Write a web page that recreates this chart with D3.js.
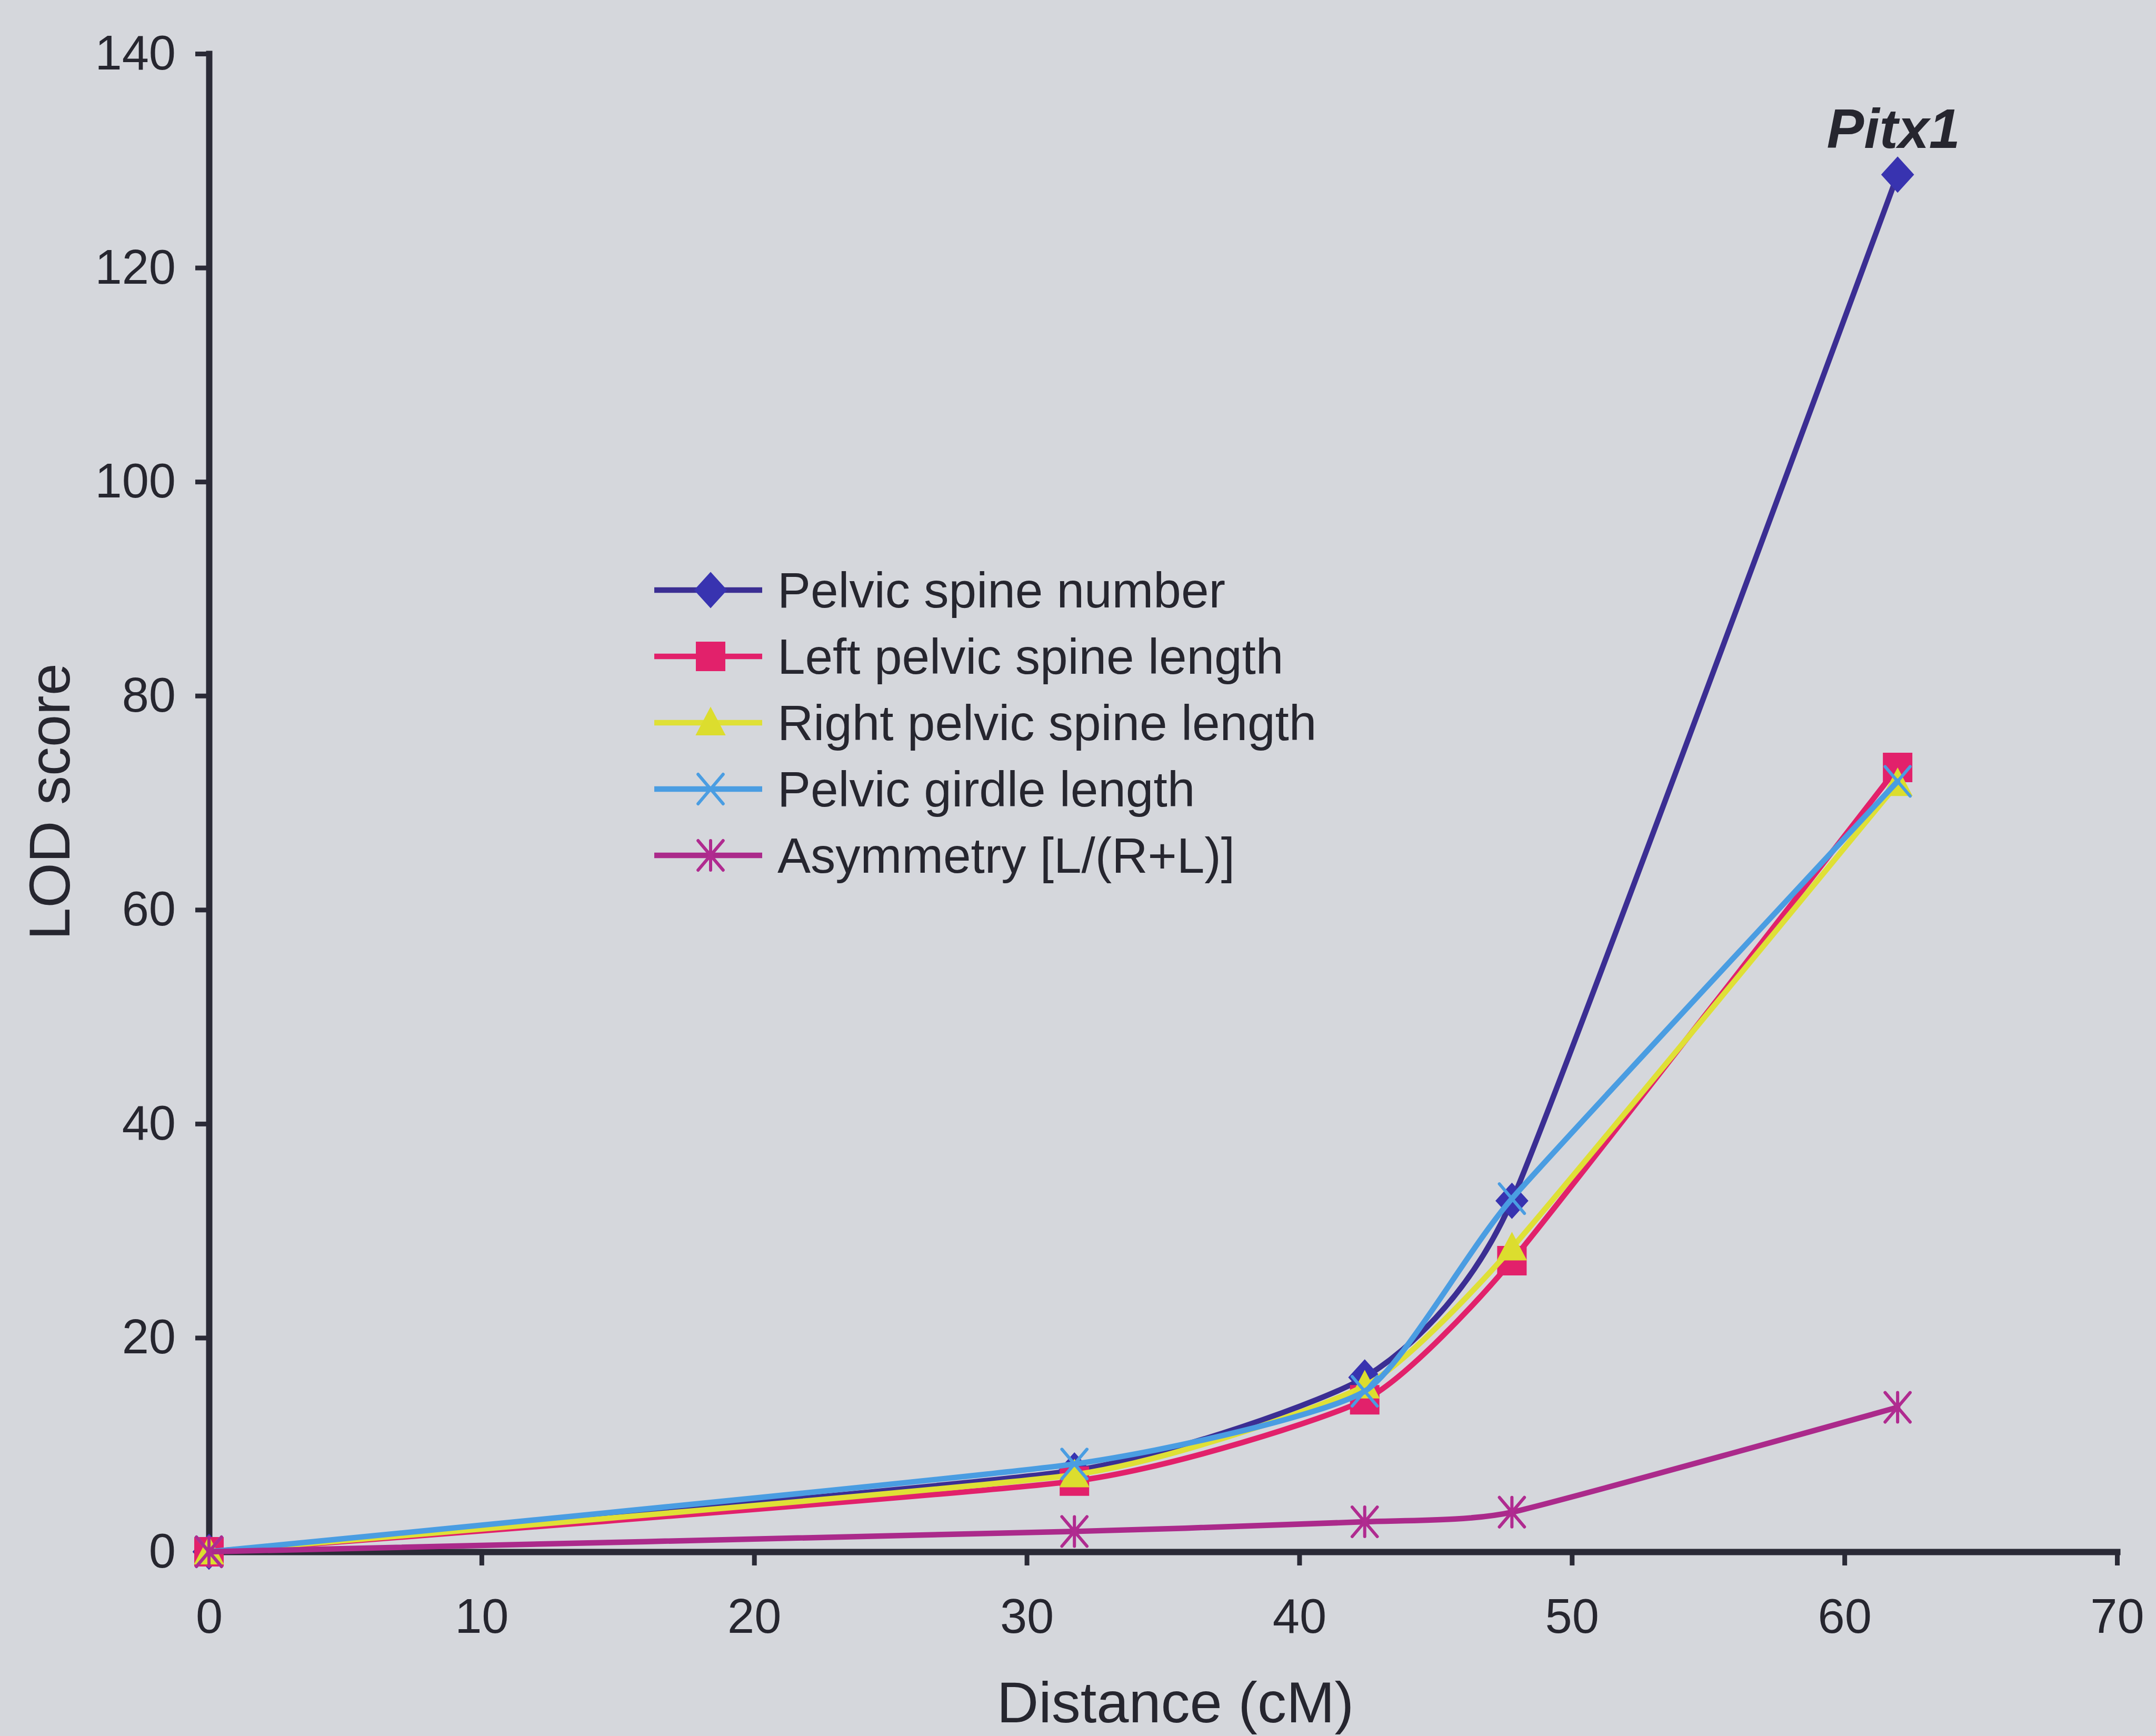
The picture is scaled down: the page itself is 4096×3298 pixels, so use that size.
<!DOCTYPE html>
<html>
<head>
<meta charset="utf-8">
<script src="https://cdn.jsdelivr.net/npm/d3@7"></script>
<style>
  html, body { margin: 0; padding: 0; background: #d5d7dc; }
  svg { display: block; }
  text { font-family: "Liberation Sans", Arial, Helvetica, sans-serif; fill: #26262f; }
</style>
</head>
<body>
<svg id="chart" width="4096" height="3298"></svg>
<script>
// Marker positions along the linkage group (cM)
const distanceCM = [0, 31.75, 42.4, 47.8, 61.95];

// LOD scores for each trait at those markers
const pelvicSpineNumber      = [0, 7.6, 16.3, 32.8, 128.7];
const leftPelvicSpineLength  = [0, 6.6, 14.2, 27.2, 73.3];
const rightPelvicSpineLength = [0, 7.2, 15.5, 28.4, 71.8];
const pelvicGirdleLength     = [0, 8.2, 15.0, 33.0, 72.0];
const asymmetryLR            = [0, 1.9, 2.8, 3.7, 13.5];

const seriesNames = [
  "Pelvic spine number",
  "Left pelvic spine length",
  "Right pelvic spine length",
  "Pelvic girdle length",
  "Asymmetry [L/(R+L)]"
];

const xTickValues = [0, 10, 20, 30, 40, 50, 60, 70];
const yTickValues = [0, 20, 40, 60, 80, 100, 120, 140];

const peakLabel = "Pitx1";
const xTitle = "Distance (cM)";
const yTitle = "LOD score";

// ---- marker shapes (size = half-extent squared) ----
const diamondShape = { draw(ctx, size) { const r = Math.sqrt(size);
  ctx.moveTo(0, -r * 1.1); ctx.lineTo(r, 0); ctx.lineTo(0, r * 1.1); ctx.lineTo(-r, 0); ctx.closePath(); } };
const squareShape = { draw(ctx, size) { const r = Math.sqrt(size);
  ctx.rect(-r, -r, 2 * r, 2 * r); } };
const triangleShape = { draw(ctx, size) { const r = Math.sqrt(size);
  ctx.moveTo(0, -r * 1.05); ctx.lineTo(r, r * 0.85); ctx.lineTo(-r, r * 0.85); ctx.closePath(); } };
const timesShape = { draw(ctx, size) { const r = Math.sqrt(size);
  ctx.moveTo(-r * 0.85, -r); ctx.lineTo(r * 0.85, r); ctx.moveTo(r * 0.85, -r); ctx.lineTo(-r * 0.85, r); } };
const asteriskShape = { draw(ctx, size) { const r = Math.sqrt(size);
  ctx.moveTo(-r * 0.85, -r); ctx.lineTo(r * 0.85, r); ctx.moveTo(r * 0.85, -r); ctx.lineTo(-r * 0.85, r);
  ctx.moveTo(0, -r); ctx.lineTo(0, r); } };

const seriesValues = [pelvicSpineNumber, leftPelvicSpineLength, rightPelvicSpineLength, pelvicGirdleLength, asymmetryLR];
const seriesStyle = [
  { line: "#3b2e93", mark: "#3833b0", shape: diamondShape,  r: 30, filled: true },
  { line: "#e2216b", mark: "#e2216b", shape: squareShape,   r: 27, filled: true },
  { line: "#dfe036", mark: "#dcdd2e", shape: triangleShape, r: 27, filled: true },
  { line: "#4a9de2", mark: "#4a9de2", shape: timesShape,    r: 28, filled: false },
  { line: "#ab2a8b", mark: "#b02b90", shape: asteriskShape, r: 28, filled: false }
];

const series = seriesNames.map((name, i) => ({ name, values: seriesValues[i], style: seriesStyle[i] }));

const svg = d3.select("#chart");
const W = 4096, H = 3298;

svg.append("rect").attr("width", W).attr("height", H).attr("fill", "#d5d7dc");

const x = d3.scaleLinear().domain([0, 70]).range([397, 4022]);
const y = d3.scaleLinear().domain([0, 140]).range([2948, 102]);

const axisColor = "#2a2a36";

// x axis
const gx = svg.append("g")
  .attr("transform", `translate(0,${y(0)})`)
  .call(d3.axisBottom(x).tickValues(xTickValues).tickFormat(d3.format("d"))
    .tickSize(26).tickSizeOuter(0).tickPadding(63));

// y axis
const gy = svg.append("g")
  .attr("transform", `translate(${x(0)},0)`)
  .call(d3.axisLeft(y).tickValues(yTickValues).tickFormat(d3.format("d"))
    .tickSize(26).tickSizeOuter(0).tickPadding(37));

[gx, gy].forEach(g => {
  g.attr("font-family", null).attr("font-size", null);
  g.select(".domain").attr("stroke", axisColor).attr("stroke-width", 12).attr("stroke-linecap", "square");
  g.selectAll(".tick line").attr("stroke", axisColor).attr("stroke-width", 9);
  g.selectAll(".tick text").attr("fill", "#26262f").style("font-size", "92px");
});

// data lines and markers (lightly smoothed)
const lineGen = d3.line()
  .x((d, i) => x(distanceCM[i]))
  .y(d => y(d))
  .curve(d3.curveCardinal.tension(0.5));

const plot = svg.append("g");
series.forEach(s => {
  const g = plot.append("g");
  g.append("path")
    .datum(s.values)
    .attr("d", lineGen)
    .attr("fill", "none")
    .attr("stroke", s.style.line)
    .attr("stroke-width", 10.5)
    .attr("stroke-linejoin", "round")
    .attr("stroke-linecap", "round");
  g.selectAll("path.mk")
    .data(s.values)
    .join("path")
    .attr("class", "mk")
    .attr("transform", (d, i) => `translate(${x(distanceCM[i])},${y(d)})`)
    .attr("d", d3.symbol().type(s.style.shape).size(s.style.r * s.style.r))
    .attr("fill", s.style.filled ? s.style.mark : "none")
    .attr("stroke", s.style.mark)
    .attr("stroke-width", s.style.filled ? 2 : 6)
    .attr("stroke-linecap", "round");
});

// label over the peak
const peakIdx = pelvicSpineNumber.indexOf(d3.max(pelvicSpineNumber));
svg.append("text")
  .attr("x", x(distanceCM[peakIdx]) - 8)
  .attr("y", y(pelvicSpineNumber[peakIdx]) - 51)
  .attr("text-anchor", "middle")
  .style("font-size", "106px")
  .style("font-weight", "bold")
  .style("font-style", "italic")
  .attr("fill", "#1d1d26")
  .text(peakLabel);

// legend
const legend = svg.append("g").attr("transform", "translate(1243,1121)");
const rowGap = 126;
series.forEach((s, i) => {
  const row = legend.append("g").attr("transform", `translate(0,${i * rowGap})`);
  row.append("line")
    .attr("x1", 0).attr("x2", 205).attr("y1", 0).attr("y2", 0)
    .attr("stroke", s.style.line).attr("stroke-width", 10.5);
  row.append("path")
    .attr("transform", "translate(107,0)")
    .attr("d", d3.symbol().type(s.style.shape).size(s.style.r * s.style.r))
    .attr("fill", s.style.filled ? s.style.mark : "none")
    .attr("stroke", s.style.mark)
    .attr("stroke-width", s.style.filled ? 2 : 6)
    .attr("stroke-linecap", "round");
  row.append("text")
    .attr("x", 234).attr("y", 0).attr("dy", "0.35em")
    .style("font-size", "94.5px")
    .text(s.name);
});

// axis titles
svg.append("text")
  .attr("x", 2233).attr("y", 3272)
  .attr("text-anchor", "middle")
  .style("font-size", "110px")
  .text(xTitle);

svg.append("text")
  .attr("transform", "translate(132,1523) rotate(-90)")
  .attr("text-anchor", "middle")
  .style("font-size", "110px")
  .text(yTitle);
</script>
</body>
</html>
